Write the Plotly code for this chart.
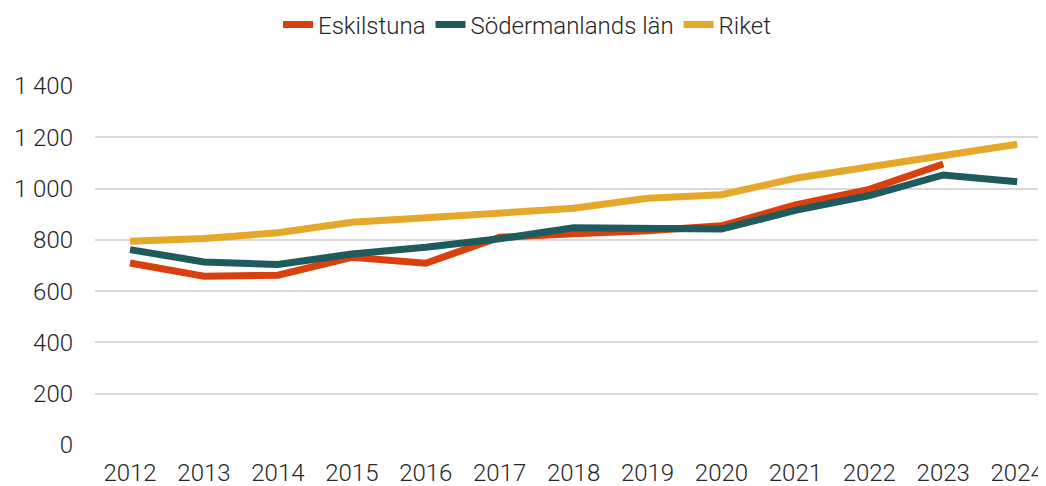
import plotly.graph_objects as go

years = ["2012","2013","2014","2015","2016","2017","2018","2019","2020","2021","2022","2023","2024"]
eskilstuna = [710, 658, 662, 732, 709, 810, 824, 836, 855, 936, 997, 1096, None]
sodermanland = [762, 714, 704, 745, 771, 804, 847, 847, 842, 915, 973, 1053, 1027]
riket = [795, 805, 828, 869, 886, 904, 923, 962, 976, 1040, 1083, 1131, 1173]

y_ticks = [0, 200, 400, 600, 800, 1000, 1200, 1400]
y_ticktext = ["0", "200", "400", "600", "800", "1 000", "1 200", "1 400"]

FONT = "Roboto"
TXT = "#262626"
fig = go.Figure()
for name, vals, col in [("Eskilstuna", eskilstuna, "#D9400E"),
                        ("Södermanlands län", sodermanland, "#1F5A5D"),
                        ("Riket", riket, "#E5A82A")]:
    fig.add_trace(go.Scatter(x=list(range(len(years))), y=vals, name=name, mode="lines",
                             line=dict(color=col, width=7)))

# page body has an 8px margin, so the figure is sized/offset to compensate
fig.update_layout(
    width=1038, height=478,
    margin=dict(l=87, r=0, t=78, b=41, autoexpand=False),
    paper_bgcolor="white", plot_bgcolor="white",
    font=dict(family=FONT, size=24, color=TXT, weight=300),
    legend=dict(orientation="h", x=0.5, xanchor="center", xref="container",
                y=1 - 17 / 478, yanchor="middle", yref="container",
                font=dict(family=FONT, size=24, color=TXT, weight=300),
                itemwidth=30, traceorder="normal"),
    showlegend=True,
)
fig.update_xaxes(range=[-0.474, 12.39], tickmode="array", tickvals=list(range(len(years))),
                 ticktext=years, showgrid=False, zeroline=False, ticks="",
                 automargin=False, ticklabelstandoff=11,
                 tickfont=dict(family=FONT, size=24, color=TXT, weight=300))
fig.update_yaxes(range=[0, 1400], tickmode="array", tickvals=y_ticks, ticktext=y_ticktext,
                 showgrid=True, gridcolor="#D9D9D9", gridwidth=1.5, zeroline=False,
                 ticks="", automargin=False, ticklabelstandoff=21,
                 tickfont=dict(family=FONT, size=24, color=TXT, weight=300))
fig.write_html("out.html")
